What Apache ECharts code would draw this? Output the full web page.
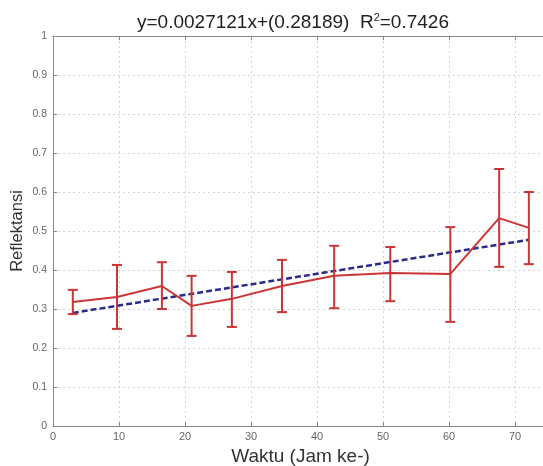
<!DOCTYPE html>
<html>
<head>
<meta charset="utf-8">
<script src="https://cdn.jsdelivr.net/npm/echarts@6/dist/echarts.min.js"></script>
<style>
  html, body { margin: 0; padding: 0; background: #fff; }
  #chart { width: 543px; height: 466px; }
</style>
</head>
<body>
<div id="chart"></div>
<script>
// data
var jam = [3, 9.7, 16.5, 21, 27.1, 34.7, 42.6, 51.1, 60.2, 67.6, 72.1];
var reflektansi = [0.318, 0.331, 0.359, 0.308, 0.326, 0.359, 0.385, 0.392, 0.390, 0.533, 0.508];
var errLow = [0.287, 0.249, 0.300, 0.231, 0.254, 0.292, 0.302, 0.320, 0.267, 0.408, 0.415];
var errHigh = [0.349, 0.413, 0.420, 0.385, 0.395, 0.426, 0.462, 0.459, 0.510, 0.659, 0.600];
// fit y = a x + b
var slope = 0.0027121;
var intercept = 0.28189;
var fitX = [3, 72.1];

var chart = echarts.init(document.getElementById('chart'));

var lineData = [], errData = [], fitData = [];
jam.forEach(function (x, i) {
    lineData.push([x, reflektansi[i]]);
    errData.push([x, errLow[i], errHigh[i]]);
});
fitX.forEach(function (x) {
    fitData.push([x, slope * x + intercept]);
});

var grey = '#666';
var gridLine = { show: true, lineStyle: { color: '#d4d4d4', type: [2, 3], width: 1 } };

var option = {
    backgroundColor: '#fff',
    animation: false,
    title: {
        text: '{t|y=0.0027121x+(0.28189)  R}{s|2}{t|=0.7426}',
        left: 288,
        textAlign: 'center',
        top: 7,
        textStyle: {
            fontWeight: 'normal',
            rich: {
                t: { fontFamily: 'Liberation Sans', fontSize: 19, fontWeight: 'normal', color: '#222', verticalAlign: 'bottom' },
                s: { fontFamily: 'Liberation Sans', fontSize: 11, fontWeight: 'normal', color: '#222', verticalAlign: 'top', padding: [0, 0, 9, 0] }
            }
        }
    },
    grid: { left: 53, top: 36, width: 495, height: 390, containLabel: false, outerBoundsMode: 'none' },
    xAxis: [{
        type: 'value',
        min: 0, max: 75, interval: 10,
        name: 'Waktu (Jam ke-)',
        nameLocation: 'middle',
        nameGap: 19,
        nameTextStyle: { fontFamily: 'Liberation Sans', fontSize: 19, color: '#333' },
        axisLine: { show: true, lineStyle: { color: '#888', width: 1 } },
        axisTick: { show: true, inside: true, length: 4, lineStyle: { color: '#888' } },
        axisLabel: { fontFamily: 'Liberation Sans', fontSize: 11, color: grey, margin: 5, showMaxLabel: false },
        splitLine: gridLine
    }, {
        type: 'value',
        position: 'top',
        min: 0, max: 75, interval: 10,
        axisLine: { show: true, lineStyle: { color: '#888', width: 1 } },
        axisTick: { show: true, inside: true, length: 4, lineStyle: { color: '#888' } },
        axisLabel: { show: false },
        splitLine: { show: false }
    }],
    yAxis: [{
        type: 'value',
        min: 0, max: 1, interval: 0.1,
        name: 'Reflektansi',
        nameLocation: 'middle',
        nameGap: 27,
        nameMoveOverlap: false,
        nameTextStyle: { fontFamily: 'Liberation Sans', fontSize: 16.5, color: '#333' },
        axisLine: { show: true, lineStyle: { color: '#888', width: 1 } },
        axisTick: { show: true, inside: true, length: 4, lineStyle: { color: '#888' } },
        axisLabel: { fontFamily: 'Liberation Sans', fontSize: 10.5, color: grey, margin: 6 },
        splitLine: gridLine
    }],
    series: [{
        name: 'fit',
        type: 'line',
        data: fitData,
        symbol: 'none',
        lineStyle: { color: '#2b2b8c', width: 2.5, type: [6, 3] },
        z: 3
    }, {
        name: 'Reflektansi',
        type: 'line',
        data: lineData,
        symbol: 'none',
        lineStyle: { color: '#cc3535', width: 2 },
        z: 4
    }, {
        name: 'error',
        type: 'custom',
        data: errData,
        z: 5,
        renderItem: function (params, api) {
            var x = api.value(0);
            var lo = api.coord([x, api.value(1)]);
            var hi = api.coord([x, api.value(2)]);
            var w = 5;
            var style = { stroke: '#cc3535', lineWidth: 2, fill: null };
            return {
                type: 'group',
                children: [
                    { type: 'line', shape: { x1: lo[0], y1: lo[1], x2: hi[0], y2: hi[1] }, style: style },
                    { type: 'line', shape: { x1: lo[0] - w, y1: lo[1], x2: lo[0] + w, y2: lo[1] }, style: style },
                    { type: 'line', shape: { x1: hi[0] - w, y1: hi[1], x2: hi[0] + w, y2: hi[1] }, style: style }
                ]
            };
        },
        encode: { x: 0, y: [1, 2] }
    }]
};

chart.setOption(option);
</script>
</body>
</html>
